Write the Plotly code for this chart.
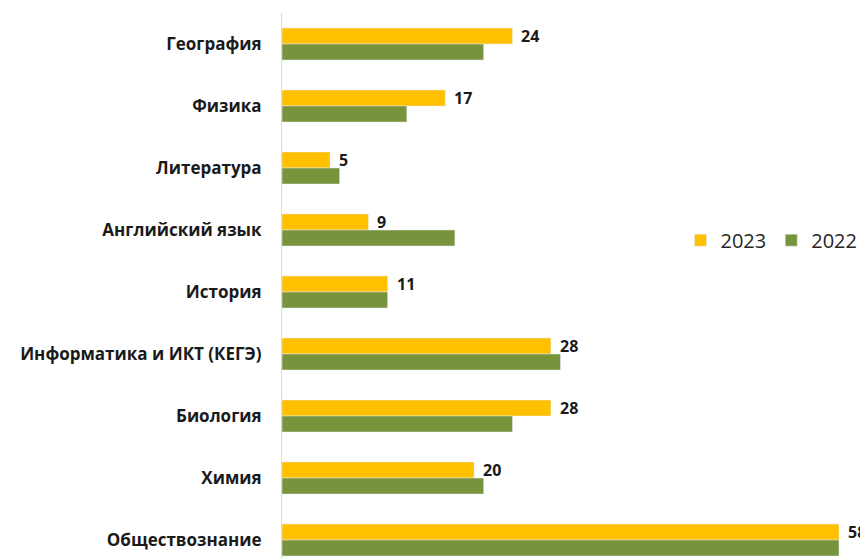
import plotly.graph_objects as go

subjects = ["География", "Физика", "Литература", "Английский язык", "История",
            "Информатика и ИКТ (КЕГЭ)", "Биология", "Химия", "Обществознание"]
values_2023 = [24, 17, 5, 9, 11, 28, 28, 20, 58]
values_2022 = [21, 13, 6, 18, 11, 29, 24, 21, 58]

fig = go.Figure()
fig.add_trace(go.Bar(y=subjects, x=values_2023, name="2023", orientation="h",
                     marker_color="#FFC000"))
fig.add_trace(go.Bar(y=subjects, x=values_2022, name="2022", orientation="h",
                     marker_color="#77933C"))

for s, v in zip(subjects, values_2023):
    fig.add_annotation(x=v, y=s, text=f"<b>{v}</b>", showarrow=False,
                       xanchor="left", yanchor="middle", xshift=7, yshift=8,
                       font=dict(family="Open Sans", size=16, color="#1a1a1a"))

fig.update_layout(
    width=868, height=559,
    margin=dict(l=274, r=8, t=5, b=8),
    plot_bgcolor="white", paper_bgcolor="white",
    barmode="group", bargap=0.484, bargroupgap=0,
    showlegend=True,
    legend=dict(orientation="h", x=0.68, y=0.584, xanchor="left", yanchor="middle",
                font=dict(family="Open Sans", size=20, color="#262626"),
                itemwidth=30, traceorder="normal"),
    xaxis=dict(range=[0, 61.02], showgrid=False, showticklabels=False, zeroline=False,
               showline=False),
    yaxis=dict(range=[8.306, -0.5], showline=True, linecolor="#D9D9D9", linewidth=1,
               ticks="", ticklabelstandoff=16,
               tickfont=dict(family="Open Sans", size=17, color="#1a1a1a", weight="bold")),
)
fig.write_html("out.html")
